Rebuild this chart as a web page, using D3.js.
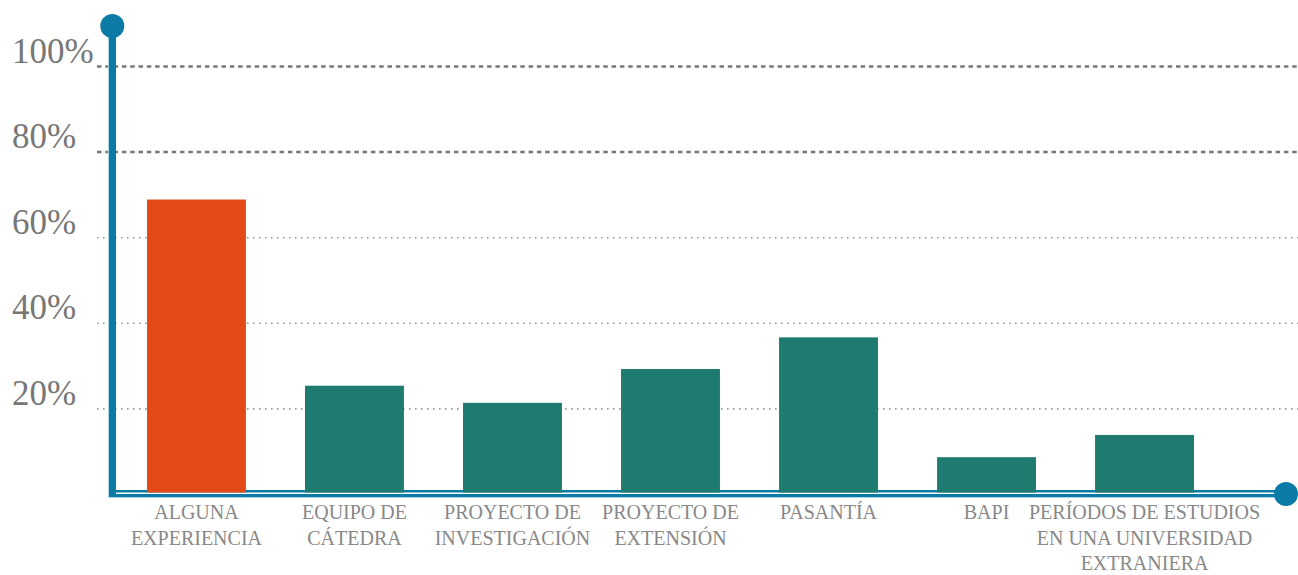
<!DOCTYPE html>
<html><head><meta charset="utf-8">
<script src="https://cdn.jsdelivr.net/npm/d3@7"></script>
<style>
html,body{margin:0;padding:0;background:#fff;}
svg{display:block;}
</style></head>
<body>
<svg id="chart" width="1298" height="575"></svg>
<script>
const categories = [
  "ALGUNA\nEXPERIENCIA",
  "EQUIPO DE\nCÁTEDRA",
  "PROYECTO DE\nINVESTIGACIÓN",
  "PROYECTO DE\nEXTENSIÓN",
  "PASANTÍA",
  "BAPI",
  "PERÍODOS DE ESTUDIOS\nEN UNA UNIVERSIDAD\nEXTRANIERA"
];
const values = [68.8, 25.3, 21.3, 29.2, 36.6, 8.6, 13.8];
const highlighted = ["ALGUNA\nEXPERIENCIA"];
const tickValues = [20, 40, 60, 80, 100];

const W = 1298, H = 575;
const svg = d3.select("#chart");
const axisColor = "#0b7ba5";
const axisLight = "#a9d5e4";

const y = d3.scaleLinear().domain([0, 100]).range([494, 66]);
const x = d3.scaleBand().domain(categories).range([147, 1194]).paddingInner(0.374).paddingOuter(0);

// gridlines + tick labels
const gridX0 = 97;
const yAxis = d3.axisLeft(y).tickValues(tickValues).tickFormat(d => d + "%").tickSize(-(W - gridX0)).tickPadding(0);
const gAxis = svg.append("g").attr("transform", `translate(${gridX0},0)`).call(yAxis);
gAxis.select(".domain").remove();
gAxis.selectAll(".tick line")
  .attr("stroke", d => d >= 80 ? "#777" : "#999")
  .attr("stroke-width", d => d >= 80 ? 2.5 : 1.6)
  .attr("stroke-dasharray", d => d >= 80 ? "4.5,3.8" : "1.6,4.4");
gAxis.selectAll(".tick text")
  .attr("x", 12 - gridX0)
  .attr("dy", 0)
  .attr("y", -4)
  .attr("text-anchor", "start")
  .attr("fill", "#777")
  .attr("font-family", "'Liberation Serif', 'DejaVu Serif', serif")
  .attr("font-size", 35);

// upper thin baseline (behind bars)
svg.append("rect").attr("x", 116).attr("y", 490).attr("width", 1287 - 116).attr("height", 2.5).attr("fill", axisColor);

// bars
svg.append("g").selectAll("rect").data(categories).join("rect")
  .attr("x", d => x(d))
  .attr("width", x.bandwidth())
  .attr("y", (d, i) => y(values[i]))
  .attr("height", (d, i) => y(0) - y(values[i]) - 1.5)
  .attr("fill", d => highlighted.includes(d) ? "#e34a17" : "#1f7b70");

// lower baseline
svg.append("rect").attr("x", 108).attr("y", 494).attr("width", 1287 - 108).attr("height", 3).attr("fill", axisColor);
svg.append("rect").attr("x", 108).attr("y", 497).attr("width", 1287 - 108).attr("height", 1).attr("fill", axisLight);

// vertical axis
svg.append("rect").attr("x", 108).attr("y", 26).attr("width", 1).attr("height", 472).attr("fill", axisLight);
svg.append("rect").attr("x", 109).attr("y", 26).attr("width", 7).attr("height", 471).attr("fill", axisColor);

// end dots
svg.append("circle").attr("cx", 112.3).attr("cy", 26).attr("r", 12).attr("fill", axisColor);
svg.append("circle").attr("cx", 1286).attr("cy", 494).attr("r", 12).attr("fill", axisColor);

// category labels
const labels = svg.append("g");
categories.forEach(c => {
  const lines = c.split("\n");
  const t = labels.append("text")
    .attr("text-anchor", "middle")
    .attr("fill", "#888")
    .attr("font-family", "'Liberation Serif', 'DejaVu Serif', serif")
    .attr("font-size", 20);
  lines.forEach((l, i) => {
    t.append("tspan").attr("x", x(c) + x.bandwidth() / 2).attr("y", 519 + i * 25.5).text(l);
  });
});
</script>
</body></html>
